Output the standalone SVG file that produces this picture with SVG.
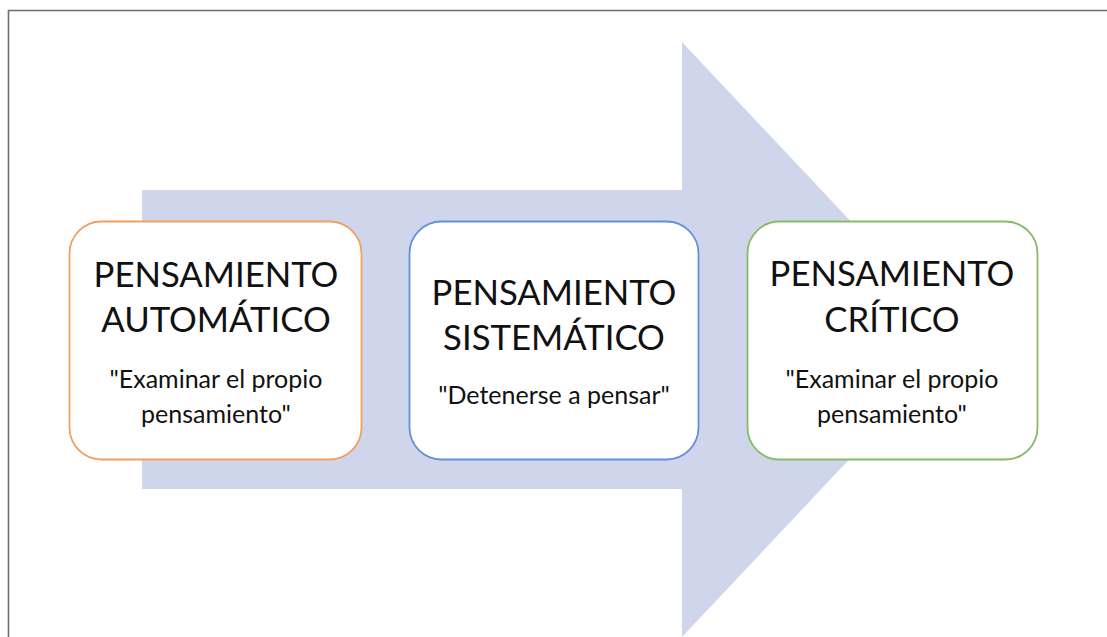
<svg xmlns="http://www.w3.org/2000/svg" width="1107" height="637" viewBox="0 0 1107 637">
<style>
.box{fill:#ffffff;stroke-width:1.8}
.t{font-family:Lato,"Liberation Sans",sans-serif;fill:#111;text-anchor:middle}
.h{font-size:34.7px}
.s{font-size:25px}
</style>
<rect x="0" y="0" width="1107" height="637" fill="#ffffff"/>
<path d="M8.5 637 V10.5 H1107" fill="none" stroke="#6e6e6e" stroke-width="1.6"/>
<g id="connectors">
<polygon points="142,190 682,190 682,42 962,339.5 682,637 682,489 142,489" fill="#cfd5ea"/>
</g>
<g id="node1">
<rect class="box" x="69.5" y="221.5" width="292" height="238" rx="32" stroke="#f0a060"/>
<text class="t h" x="216" y="286.5">PENSAMIENTO</text>
<text class="t h" x="216" y="331.5">AUTOMÁTICO</text>
<text class="t s" x="216" y="388">"Examinar el propio</text>
<text class="t s" x="216" y="423">pensamiento"</text>
</g>
<g id="node2">
<rect class="box" x="409.5" y="221.5" width="289" height="238" rx="32" stroke="#6690d6"/>
<text class="t h" x="554" y="304.5">PENSAMIENTO</text>
<text class="t h" x="554" y="350">SISTEMÁTICO</text>
<text class="t s" x="554" y="403.5">"Detenerse a pensar"</text>
</g>
<g id="node3">
<rect class="box" x="747.5" y="221.5" width="290" height="238" rx="32" stroke="#88bb66"/>
<text class="t h" x="892" y="286">PENSAMIENTO</text>
<text class="t h" x="892" y="331.5">CRÍTICO</text>
<text class="t s" x="892" y="388">"Examinar el propio</text>
<text class="t s" x="892" y="423">pensamiento"</text>
</g>
</svg>
